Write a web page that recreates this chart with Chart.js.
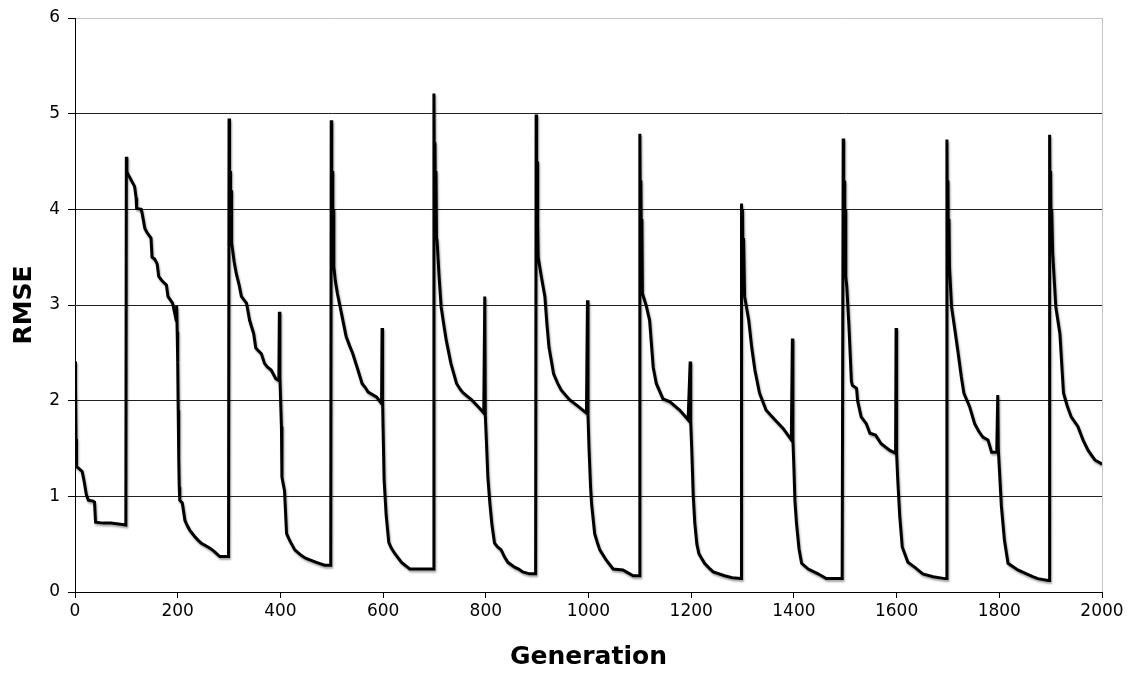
<!DOCTYPE html>
<html>
<head>
<meta charset="utf-8">
<title>RMSE by generation</title>
<script src="https://cdn.jsdelivr.net/npm/chart.js@4/dist/chart.umd.min.js"></script>
<style>
  html, body { margin: 0; padding: 0; background: #fff; }
  #wrap { width: 1133px; height: 675px; position: relative; }
</style>
</head>
<body>
<div id="wrap"><canvas id="rmseChart"></canvas></div>
<script>
/* ---------- DATA ---------- */
const generation = [
  0, 1, 2, 3, 8, 14, 18, 22, 26, 35, 38, 40, 55, 70, 85, 99,
  100, 101, 102, 110, 116, 119, 120, 129, 131, 136, 140, 148, 150, 155, 160, 163, 170, 178, 181, 190, 194, 197,
  198, 199, 200, 201, 202, 203, 204, 209, 214, 218, 223, 233, 240, 246, 259, 265, 272, 282, 296, 299,
  300, 301, 302, 303, 304, 305, 306, 310, 314, 320, 324, 334, 340, 348, 352, 363, 369, 375, 382, 391, 397,
  398, 399, 401, 402, 403, 408, 412, 418, 428, 441, 450, 460, 470, 486, 498,
  499, 500, 501, 502, 503, 504, 507, 511, 519, 528, 535, 541, 551, 559, 565, 571, 587, 597,
  598, 599, 600, 602, 606, 611, 616, 623, 636, 645, 652, 670, 698,
  699, 700, 701, 702, 703, 704, 705, 709, 713, 718, 723, 732, 743, 750, 756, 772, 788, 796,
  798, 799, 801, 804, 808, 812, 817, 823, 830, 836, 843, 856, 864, 872, 885, 897,
  898, 899, 900, 901, 902, 908, 915, 919, 923, 932, 940, 947, 963, 980, 996,
  998, 999, 1001, 1004, 1006, 1012, 1017, 1022, 1035, 1048, 1067, 1077, 1087, 1099,
  1100, 1101, 1102, 1103, 1104, 1105, 1112, 1119, 1126, 1132, 1145, 1158, 1178, 1194,
  1198, 1199, 1201, 1204, 1207, 1211, 1215, 1226, 1235, 1243, 1265, 1280, 1297,
  1298, 1299, 1300, 1301, 1302, 1304, 1312, 1318, 1324, 1333, 1346, 1363, 1379, 1395,
  1397, 1398, 1400, 1402, 1405, 1410, 1415, 1428, 1447, 1463, 1494,
  1496, 1497, 1498, 1499, 1500, 1501, 1503, 1507, 1512, 1514, 1522, 1524, 1531, 1541, 1548, 1559, 1570, 1587, 1598,
  1599, 1600, 1602, 1606, 1611, 1622, 1635, 1651, 1671, 1694, 1697,
  1698, 1699, 1700, 1701, 1702, 1703, 1707, 1714, 1720, 1726, 1731, 1742, 1752, 1760, 1768, 1778, 1785, 1795,
  1797, 1798, 1800, 1804, 1810, 1817, 1836, 1853, 1865, 1875, 1895, 1897,
  1898, 1899, 1900, 1901, 1902, 1904, 1910, 1918, 1925, 1932, 1940, 1953, 1963, 1973, 1986, 1999, 2000
];

const rmse = [
  2.41, 2.14, 1.6, 1.31, 1.29, 1.26, 1.15, 1.02, 0.96, 0.95, 0.94, 0.73, 0.72, 0.72, 0.71, 0.70,
  4.55, 4.40, 4.38, 4.30, 4.24, 4.12, 4.01, 4.00, 3.95, 3.80, 3.76, 3.70, 3.50, 3.48, 3.43, 3.30, 3.25, 3.21, 3.09, 3.02, 2.92, 2.84,
  2.99, 2.72, 2.4, 1.9, 1.4, 1.1, 0.96, 0.93, 0.75, 0.70, 0.65, 0.58, 0.54, 0.51, 0.47, 0.45, 0.42, 0.37, 0.37, 0.37,
  4.95, 3.9, 4.4, 3.8, 4.2, 3.65, 3.61, 3.45, 3.33, 3.20, 3.09, 3.02, 2.84, 2.70, 2.55, 2.49, 2.39, 2.35, 2.32, 2.23, 2.21,
  2.93, 2.25, 1.9, 1.73, 1.20, 1.06, 0.61, 0.54, 0.44, 0.38, 0.35, 0.33, 0.31, 0.28, 0.28,
  4.93, 3.8, 4.4, 3.6, 4.0, 3.40, 3.25, 3.12, 2.91, 2.67, 2.57, 2.49, 2.32, 2.18, 2.14, 2.09, 2.04, 1.97,
  2.76, 2.0, 1.7, 1.17, 0.8, 0.52, 0.46, 0.40, 0.31, 0.27, 0.24, 0.24, 0.24,
  5.21, 4.1, 4.7, 3.9, 4.4, 3.7, 3.68, 3.3, 2.98, 2.80, 2.63, 2.39, 2.18, 2.12, 2.08, 2.01, 1.92, 1.87,
  3.09, 1.85, 1.6, 1.2, 0.92, 0.7, 0.51, 0.47, 0.44, 0.37, 0.31, 0.26, 0.24, 0.21, 0.19, 0.19,
  4.99, 3.9, 4.5, 3.85, 3.50, 3.3, 3.09, 2.8, 2.56, 2.28, 2.18, 2.11, 2.01, 1.94, 1.87,
  3.05, 1.85, 1.5, 1.1, 0.92, 0.61, 0.52, 0.44, 0.33, 0.24, 0.23, 0.20, 0.17, 0.17,
  4.79, 3.9, 4.3, 3.6, 3.9, 3.12, 3.0, 2.84, 2.35, 2.18, 2.02, 1.99, 1.90, 1.80,
  2.41, 1.78, 1.5, 1.0, 0.72, 0.5, 0.40, 0.30, 0.25, 0.21, 0.17, 0.15, 0.14,
  4.06, 3.5, 4.0, 3.3, 3.7, 3.09, 2.84, 2.55, 2.32, 2.08, 1.90, 1.80, 1.71, 1.59,
  2.65, 1.6, 1.3, 0.95, 0.72, 0.45, 0.30, 0.24, 0.19, 0.14, 0.14,
  4.74, 3.8, 4.3, 3.5, 4.0, 3.3, 3.19, 2.8, 2.2, 2.16, 2.13, 2.0, 1.83, 1.76, 1.66, 1.64, 1.55, 1.48, 1.45,
  2.76, 1.45, 1.2, 0.8, 0.47, 0.31, 0.26, 0.19, 0.16, 0.14, 0.14,
  4.73, 3.7, 4.3, 3.5, 3.9, 3.40, 2.98, 2.72, 2.49, 2.25, 2.08, 1.94, 1.76, 1.68, 1.62, 1.59, 1.46, 1.46,
  2.06, 1.5, 1.3, 0.9, 0.54, 0.30, 0.23, 0.19, 0.16, 0.14, 0.12, 0.12,
  4.78, 3.8, 4.4, 3.6, 4.0, 3.54, 2.98, 2.70, 2.08, 1.95, 1.83, 1.73, 1.59, 1.48, 1.38, 1.34, 1.33
];

const yMax = 6;
const xMax = 2000;
const xStep = 200;

/* ---------- HELPERS ---------- */
const tickFont = { family: "'DejaVu Sans', Verdana, sans-serif", size: 17 };
const titleFont = { family: "'DejaVu Sans', Verdana, sans-serif", size: 25, weight: 'bold' };

// soft grey drop shadow under the series line
const lineShadow = {
  id: 'lineShadow',
  beforeDatasetsDraw(chart) {
    const ctx = chart.ctx;
    ctx.save();
    ctx.shadowColor = 'rgba(0,0,0,0.35)';
    ctx.shadowBlur = 2;
    ctx.shadowOffsetX = 1;
    ctx.shadowOffsetY = 2;
  },
  afterDatasetsDraw(chart) {
    chart.ctx.restore();
  }
};

/* ---------- CHART ---------- */
new Chart(document.getElementById('rmseChart'), {
  type: 'line',
  data: {
    datasets: [{
      data: generation.map((g, i) => ({ x: g, y: rmse[i] })),
      borderColor: '#000',
      borderWidth: 3,
      pointRadius: 0,
      tension: 0,
      fill: false
    }]
  },
  options: {
    responsive: true,
    maintainAspectRatio: false,
    animation: false,
    layout: { padding: { top: 18, right: 31, left: 0, bottom: 0 } },
    plugins: { legend: { display: false }, tooltip: { enabled: false } },
    scales: {
      x: {
        type: 'linear',
        min: 0,
        max: xMax,
        afterFit: s => { s.height = 83; s.paddingLeft = 0; s.paddingRight = 0; },
        ticks: { stepSize: xStep, color: '#000', font: tickFont, padding: 3, maxRotation: 0, callback: v => String(v) },
        grid: {
          color: c => (c.tick && c.tick.value === xMax) ? '#c4c4c4' : 'rgba(0,0,0,0)',
          tickColor: '#000',
          tickLength: 6
        },
        border: { color: '#000', width: 1 },
        title: { display: true, text: 'Generation', color: '#000', font: titleFont, padding: { top: 0, bottom: 3 } }
      },
      y: {
        min: 0,
        max: yMax,
        afterFit: s => { s.width = 75; s.paddingTop = 0; s.paddingBottom = 0; },
        ticks: { stepSize: 1, color: '#000', font: tickFont, padding: 8, callback: v => String(v) },
        grid: {
          color: c => (c.tick && c.tick.value === yMax) ? '#c4c4c4' : '#222',
          tickColor: '#000',
          tickLength: 7
        },
        border: { color: '#000', width: 1 },
        title: { display: true, text: 'RMSE', color: '#000', font: titleFont, padding: { top: 9, bottom: 0 } }
      }
    }
  },
  plugins: [lineShadow]
});
</script>
</body>
</html>
